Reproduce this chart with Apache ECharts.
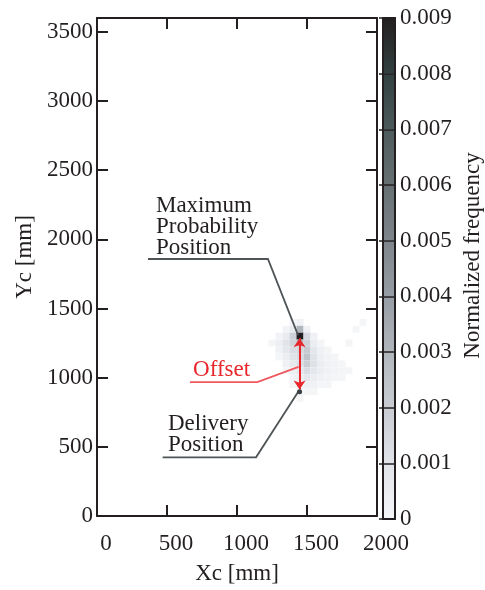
<!DOCTYPE html>
<html>
<head>
<meta charset="utf-8">
<script src="https://cdn.jsdelivr.net/npm/echarts@6/dist/echarts.min.js"></script>
<style>
  html, body { margin: 0; padding: 0; background: #fff; }
  #main { width: 485px; height: 590px; }
</style>
</head>
<body>
<div id="main"></div>
<script>
  // heatmap cells: 50 mm bins, value = normalized frequency
  const cellX = [1250, 1300, 1350, 1400, 1450, 1500, 1550, 1600, 1650, 1700, 1750, 1800, 1850, 1900];
  const cellY = [1400, 1350, 1300, 1250, 1200, 1150, 1100, 1050, 1000, 950, 900, 850];
  const freq = [
    [0, 0, 0, 0.0001, 0.0003, 0, 0, 0, 0, 0, 0, 0, 0, 0.0001],
    [0, 0, 0.0002, 0.0006, 0.0030, 0.0003, 0, 0, 0, 0, 0, 0, 0.0001, 0],
    [0, 0.0002, 0.0006, 0.0018, 0.0090, 0.0014, 0.0003, 0, 0, 0, 0, 0, 0, 0],
    [0.0001, 0.0004, 0.0010, 0.0017, 0.0030, 0.0018, 0.0005, 0.0001, 0, 0, 0, 0.0001, 0, 0],
    [0, 0.0003, 0.0008, 0.0013, 0.0016, 0.0021, 0.0008, 0.0003, 0.0001, 0, 0, 0, 0, 0],
    [0, 0.0001, 0.0005, 0.0010, 0.0014, 0.0024, 0.0010, 0.0004, 0.0002, 0.0001, 0, 0, 0, 0],
    [0, 0, 0.0003, 0.0007, 0.0012, 0.0019, 0.0011, 0.0005, 0.0003, 0.0002, 0.0001, 0, 0, 0],
    [0, 0, 0.0001, 0.0004, 0.0008, 0.0013, 0.0008, 0.0005, 0.0003, 0.0002, 0.0001, 0.0001, 0, 0],
    [0, 0, 0, 0.0002, 0.0005, 0.0008, 0.0005, 0.0003, 0.0002, 0.0001, 0.0001, 0, 0, 0],
    [0, 0, 0, 0.0001, 0.0003, 0.0004, 0.0003, 0.0001, 0.0001, 0, 0, 0, 0, 0],
    [0, 0, 0, 0, 0.0002, 0.0001, 0.0001, 0, 0, 0, 0, 0, 0, 0],
    [0, 0, 0, 0, 0.0001, 0, 0, 0, 0, 0, 0, 0, 0, 0]
  ];
  const binSize = 50;

  // colour bar
  const cbLevels = [0, 0.001, 0.002, 0.003, 0.004, 0.005, 0.006, 0.007, 0.008, 0.009];
  const cbColors = ['#f6f7f9', '#e0e3e8', '#c9cdd3', '#b1b6bd', '#979da4', '#7e858b',
                    '#667072', '#4d5a5b', '#324040', '#231f20'];

  // annotations (mm)
  const maxPosLeader = [[364, 1858], [1221, 1858], [1436, 1308]];
  const offsetLeader = [[664, 968], [1145, 968], [1440, 1078]];
  const deliveryLeader = [[469, 424], [1136, 424], [1442, 905]];
  const offsetArrow = [[1447, 915], [1447, 1285]];
  const deliveryPoint = [1447, 898];
  const labels = [
    [421, 2091, 'Maximum\nProbability\nPosition', '#231f20'],
    [686, 1053, 'Offset', '#e8262b'],
    [507, 586, 'Delivery\nPosition', '#231f20']
  ];

  const ink = '#231f20';
  const font = 'Liberation Serif';

  const cells = [];
  cellY.forEach((y, r) => {
    cellX.forEach((x, c) => {
      if (freq[r][c] > 0) cells.push([x, y, freq[r][c]]);
    });
  });

  const chart = echarts.init(document.getElementById('main'));

  const frameAxis = (extra) => Object.assign({
    z: 5,
    axisLine: { show: true, onZero: false, lineStyle: { color: ink, width: 2 } },
    axisTick: { show: false },
    axisLabel: { show: false },
    splitLine: { show: false }
  }, extra);

  const tickStyle = { show: true, inside: true, length: 11, lineStyle: { color: ink, width: 2 } };

  chart.setOption({
    animation: false,
    backgroundColor: '#fff',
    textStyle: { fontFamily: font, color: ink },
    grid: [
      { left: 97, top: 18, width: 280, height: 501 },
      { left: 383, top: 18, width: 16, height: 501 }
    ],
    xAxis: [
      frameAxis({
        gridIndex: 0, type: 'value', min: 0, max: 2000, interval: 500, position: 'bottom',
        axisTick: tickStyle,
        axisLabel: {
          show: true, fontSize: 23, color: ink, fontFamily: font, margin: 16, padding: [0, 0, 0, 18],
          formatter: v => String(v)
        },
        name: 'Xc [mm]', nameLocation: 'middle', nameGap: 46,
        nameTextStyle: { fontSize: 23, color: ink, fontFamily: font }
      }),
      frameAxis({
        gridIndex: 0, type: 'value', min: 0, max: 2000, interval: 500, position: 'top',
        axisTick: tickStyle
      }),
      frameAxis({ gridIndex: 1, type: 'value', min: 0, max: 1, position: 'bottom' }),
      frameAxis({ gridIndex: 1, type: 'value', min: 0, max: 1, position: 'top' })
    ],
    yAxis: [
      frameAxis({
        gridIndex: 0, type: 'value', min: 0, max: 3600, interval: 500, position: 'left',
        axisTick: tickStyle,
        axisLabel: {
          show: true, fontSize: 23, color: ink, fontFamily: font, margin: 4,
          formatter: v => (v > 3500 ? '' : String(v))
        },
        name: 'Yc [mm]', nameLocation: 'middle', nameGap: 60, nameRotate: 90,
        nameTextStyle: { fontSize: 23, color: ink, fontFamily: font, padding: [0, 0, 0, 20] }
      }),
      frameAxis({
        gridIndex: 0, type: 'value', min: 0, max: 3600, interval: 500, position: 'right',
        axisTick: tickStyle
      }),
      frameAxis({
        gridIndex: 1, type: 'value', min: 0, max: 0.009, interval: 0.001, position: 'right',
        axisTick: { show: true, inside: true, length: 16, lineStyle: { color: ink, width: 1.5 } },
        axisLabel: {
          show: true, fontSize: 23, color: ink, fontFamily: font, margin: 5,
          formatter: v => (v === 0 ? '0' : v.toFixed(3))
        },
        name: 'Normalized frequency', nameLocation: 'middle', nameGap: 66, nameRotate: 90,
        nameTextStyle: { fontSize: 23, color: ink, fontFamily: font, padding: [0, 0, 0, 26] }
      }),
      frameAxis({ gridIndex: 1, type: 'value', min: 0, max: 0.009, position: 'left' })
    ],
    visualMap: {
      show: false,
      type: 'continuous',
      seriesIndex: 0,
      dimension: 2,
      min: 0,
      max: 0.009,
      inRange: { color: cbColors }
    },
    series: [
      {
        name: 'frequency',
        type: 'custom',
        xAxisIndex: 0,
        yAxisIndex: 0,
        data: cells,
        renderItem: (params, api) => {
          const x = api.value(0), y = api.value(1);
          const p0 = api.coord([x - binSize / 2, y + binSize / 2]);
          const p1 = api.coord([x + binSize / 2, y - binSize / 2]);
          return {
            type: 'rect',
            shape: { x: p0[0], y: p0[1], width: p1[0] - p0[0], height: p1[1] - p0[1] },
            style: { fill: api.visual('color') }
          };
        }
      },
      {
        name: 'colorbar',
        type: 'custom',
        xAxisIndex: 2,
        yAxisIndex: 2,
        data: cbLevels.slice(0, -1).map((v, i) => [v, cbLevels[i + 1], i]),
        renderItem: (params, api) => {
          const i = api.value(2);
          const p0 = api.coord([0, api.value(1)]);
          const p1 = api.coord([1, api.value(0)]);
          return {
            type: 'rect',
            shape: { x: p0[0], y: p0[1], width: p1[0] - p0[0], height: p1[1] - p0[1] },
            style: {
              fill: new echarts.graphic.LinearGradient(0, 1, 0, 0, [
                { offset: 0, color: cbColors[i] },
                { offset: 1, color: cbColors[i + 1] }
              ])
            }
          };
        }
      },
      {
        type: 'lines',
        coordinateSystem: 'cartesian2d',
        xAxisIndex: 0,
        yAxisIndex: 0,
        polyline: true,
        z: 6,
        data: [
          { coords: maxPosLeader, lineStyle: { color: '#4f5457', width: 1.8, opacity: 1 } },
          { coords: deliveryLeader, lineStyle: { color: '#4f5457', width: 1.8, opacity: 1 } },
          { coords: offsetLeader, lineStyle: { color: '#f0585d', width: 1.8, opacity: 1 } }
        ]
      },
      {
        type: 'lines',
        coordinateSystem: 'cartesian2d',
        xAxisIndex: 0,
        yAxisIndex: 0,
        z: 7,
        symbol: ['arrow', 'arrow'],
        symbolSize: 9,
        lineStyle: { color: '#e8262b', width: 2, opacity: 1 },
        data: [{ coords: offsetArrow }]
      },
      {
        type: 'scatter',
        xAxisIndex: 0,
        yAxisIndex: 0,
        z: 8,
        symbolSize: 5,
        itemStyle: { color: '#3a3f42', opacity: 1 },
        data: [deliveryPoint]
      },
      {
        type: 'scatter',
        xAxisIndex: 0,
        yAxisIndex: 0,
        z: 8,
        symbolSize: 0,
        itemStyle: { opacity: 1 },
        data: labels.map(l => ({
          value: [l[0], l[1]],
          label: {
            show: true, position: 'right', distance: 0,
            formatter: l[2], fontSize: 23, lineHeight: 21,
            fontFamily: font, color: l[3]
          }
        }))
      }
    ]
  });
</script>
</body>
</html>
